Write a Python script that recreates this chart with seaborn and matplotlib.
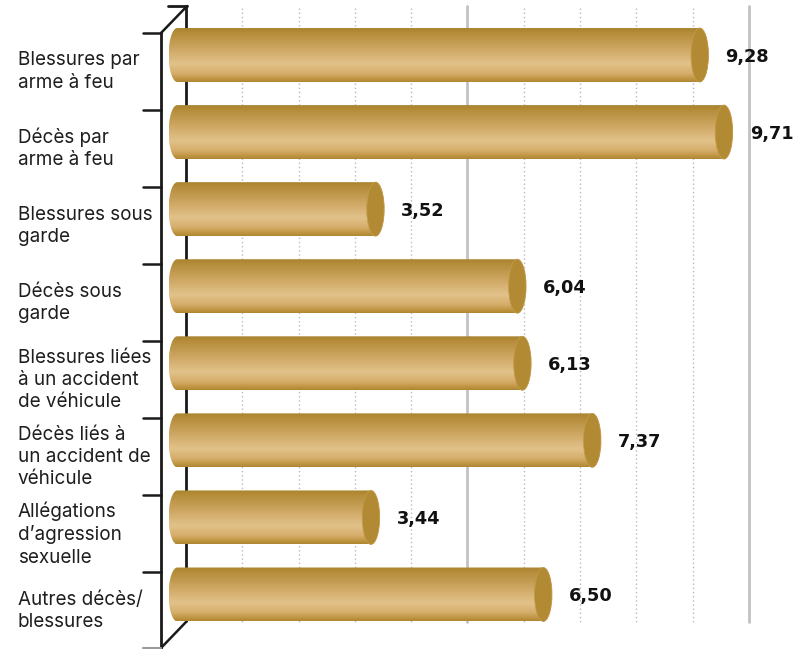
import numpy as np
import matplotlib
matplotlib.use("Agg")
import matplotlib.pyplot as plt
from matplotlib.colors import LinearSegmentedColormap
from matplotlib.path import Path
from matplotlib.patches import PathPatch, Ellipse
import seaborn as sns

categories = [
    "Blessures par\narme à feu",
    "Décès par\narme à feu",
    "Blessures sous\ngarde",
    "Décès sous\ngarde",
    "Blessures liées\nà un accident\nde véhicule",
    "Décès liés à\nun accident de\nvéhicule",
    "Allégations\nd’agression\nsexuelle",
    "Autres décès/\nblessures",
]
values = [9.28, 9.71, 3.52, 6.04, 6.13, 7.37, 3.44, 6.50]
grid_dotted = [1, 2, 3, 4, 6, 7, 8, 9]
grid_solid = [5, 10]

sns.set_theme(style="white")

W, H, DPI = 803, 649, 100
fig = plt.figure(figsize=(W / DPI, H / DPI), dpi=DPI)
ax = fig.add_axes([0, 0, 1, 1])

# pixel layout of the value and category scales
PX_PER_UNIT = 56.3
X0_PX = 186.0
PX_PER_CAT = 77.07
Y0_PX = 55.0

sns.barplot(x=values, y=categories, orient="h", width=0.70, ax=ax, color="#c9a25a")
ax.set_xlim(-X0_PX / PX_PER_UNIT, (W - X0_PX) / PX_PER_UNIT)
ax.set_ylim((H - Y0_PX) / PX_PER_CAT, -Y0_PX / PX_PER_CAT)
ax.axis("off")

def px_x(p):
    return (p - X0_PX) / PX_PER_UNIT

def px_y(p):
    return (p - Y0_PX) / PX_PER_CAT

# back wall and grid
wall_top, wall_bot = px_y(6), px_y(622)
for g in grid_dotted:
    ax.plot([g, g], [px_y(8), wall_bot], color="#b8b8b8", lw=1.0,
            ls=(0, (1, 2)), zorder=1)
for g in grid_solid:
    ax.plot([g, g], [px_y(6), wall_bot], color="#c2c2c2", lw=2.0, zorder=1)
ax.plot([0, 0], [wall_top, wall_bot], color="#1a1a1a", lw=2.0, zorder=1,
        solid_capstyle="butt")
ax.plot([px_x(168), 0.02], [wall_top, wall_top], color="#1a1a1a", lw=2.0, zorder=1)

# front axis with category separators and depth diagonals
fx = px_x(161)
front_top, front_bot = px_y(33), px_y(648)
ax.plot([fx, fx], [front_top, front_bot], color="#1a1a1a", lw=2.0, zorder=2)
ax.plot([fx, 0.02], [front_top, wall_top], color="#1a1a1a", lw=1.8, zorder=2)
ax.plot([fx, 0], [front_bot, wall_bot], color="#1a1a1a", lw=1.8, zorder=2)
for k in range(len(categories)):
    ty = front_top + k
    ax.plot([px_x(143), fx], [ty, ty], color="#1a1a1a", lw=1.8, zorder=2)
ax.plot([px_x(143), fx], [front_bot, front_bot], color="#9a9a9a", lw=1.5, zorder=2)

# cylinder shading
gold = LinearSegmentedColormap.from_list("gold", [
    (0.00, "#ab842f"),
    (0.12, "#b78f3e"),
    (0.45, "#d3ad6c"),
    (0.66, "#e2c28a"),
    (0.84, "#d5ae6b"),
    (0.94, "#c09543"),
    (1.00, "#ae8631"),
])
grad = np.linspace(0, 1, 256).reshape(-1, 1)
r = 8.7 / PX_PER_UNIT
theta_l = np.linspace(np.pi / 2, 3 * np.pi / 2, 40)
theta_r = np.linspace(-np.pi / 2, np.pi / 2, 40)

bars = list(ax.patches)
for patch, v in zip(bars, values):
    x0, w = patch.get_x(), patch.get_width()
    yt, h = patch.get_y(), patch.get_height()
    yc, hh = yt + h / 2, h / 2
    xl, xr = x0 - r, x0 + w - r
    left = np.column_stack([xl + r * np.cos(theta_l), yc - hh * np.sin(theta_l)])
    right = np.column_stack([xr + r * np.cos(theta_r), yc - hh * np.sin(theta_r)])
    verts = np.vstack([left, right, left[:1]])
    body = PathPatch(Path(verts, closed=True), facecolor="none", edgecolor="none")
    ax.add_patch(body)
    im = ax.imshow(grad, cmap=gold, aspect="auto", interpolation="bilinear",
                   extent=[xl - r, xr + r, yt + h, yt], zorder=3)
    im.set_clip_path(body)
    cap = Ellipse((xr, yc), 2 * r, h, facecolor="#b38a34", edgecolor="#c39a48",
                  lw=0.6, zorder=4)
    ax.add_patch(cap)
    patch.set_visible(False)
    ax.text(v + 17 / PX_PER_UNIT, yc + 0.02, f"{v:.2f}".replace(".", ","),
            ha="left", va="center", fontsize=12.8, fontweight="bold",
            family="DejaVu Sans", color="#111111", zorder=5)

# category labels, centred on the front plane rows
for k, lab in enumerate(categories):
    ax.text(px_x(18), front_top + k + 0.5, lab, ha="left", va="center",
            fontsize=13.6, family="Inter", color="#1e1e1e", zorder=5,
            linespacing=1.3)

fig.savefig("out.png", dpi=DPI, facecolor="white")
